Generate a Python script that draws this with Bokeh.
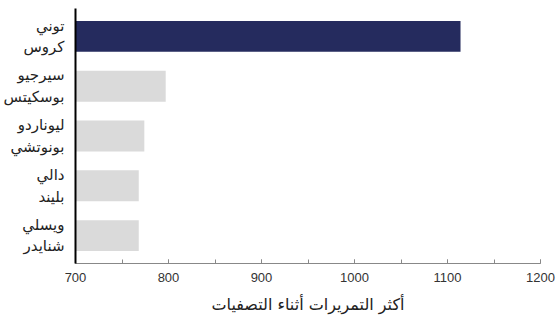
from bokeh.plotting import figure
from bokeh.models import FixedTicker, ColumnDataSource
from bokeh.embed import file_html
from bokeh.resources import INLINE

players = ["توني\nكروس", "سيرجيو\nبوسكيتس", "ليوناردو\nبونوتشي", "دالي\nبليند", "ويسلي\nشنايدر"]
passes = [1114, 797, 774, 768, 768]
colors = ["#252b5e", "#dadada", "#dadada", "#dadada", "#dadada"]
x_ticks = [700, 800, 900, 1000, 1100, 1200]
x_label = "أكثر التمريرات أثناء التصفيات"

ypos = list(range(len(players)))[::-1]
src = ColumnDataSource(dict(y=ypos, right=passes, color=colors))

p = figure(width=560, height=316, output_backend="svg", toolbar_location=None,
           x_range=(700, 1200), y_range=(-0.56, len(players) - 1 + 0.56),
           min_border_left=74, min_border_right=20, min_border_top=8, min_border_bottom=10)

p.hbar(y="y", left=700, right="right", height=0.62, fill_color="color",
       line_color=None, source=src)

p.outline_line_color = None
p.grid.grid_line_color = None
p.background_fill_color = "white"
p.border_fill_color = "white"

xa = p.xaxis[0]
xa.ticker = FixedTicker(ticks=x_ticks, minor_ticks=list(range(700, 1201, 50)))
xa.axis_line_color = "#888888"
xa.major_tick_line_color = "#888888"
xa.minor_tick_line_color = "#888888"
xa.major_tick_in = 4
xa.major_tick_out = 0
xa.minor_tick_in = 4
xa.minor_tick_out = 0
xa.major_label_text_font = "Liberation Sans"
xa.major_label_text_font_size = "13px"
xa.major_label_text_color = "#333333"
xa.major_label_standoff = 9
xa.axis_label = x_label
xa.axis_label_text_font = "DejaVu Sans"
xa.axis_label_text_font_style = "normal"
xa.axis_label_text_font_size = "16px"
xa.axis_label_text_color = "#222222"
xa.axis_label_standoff = 10

ya = p.yaxis[0]
ya.ticker = FixedTicker(ticks=ypos)
ya.major_label_overrides = {y: n for y, n in zip(ypos, players)}
ya.axis_line_color = "black"
ya.axis_line_width = 2
ya.major_tick_line_color = None
ya.minor_tick_line_color = None
ya.major_label_text_font = "DejaVu Sans"
ya.major_label_text_font_size = "15px"
ya.major_label_text_color = "#222222"
ya.major_label_standoff = 5

open("out.html", "w").write(file_html(p, INLINE))
